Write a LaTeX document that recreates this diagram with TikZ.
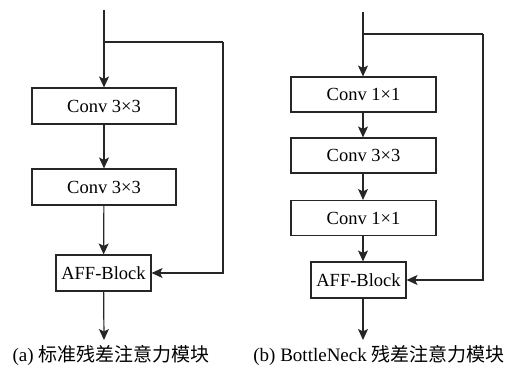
\documentclass[tikz,border=0pt]{standalone}
\usepackage{fontspec}
\setmainfont{Liberation Serif}
\newfontfamily\cjk{Noto Sans CJK SC}
\usetikzlibrary{arrows.meta}
\begin{document}
\begin{tikzpicture}[x=1pt,y=-1pt,
  blk/.style={draw=black!85, line width=1.1pt, minimum width=144pt, minimum height=36pt,
    inner sep=0pt, font=\fontsize{18.5}{20}\selectfont},
  aff/.style={blk, minimum width=95pt},
  flow/.style={draw=black!85, line width=1.2pt, -{Stealth[length=11pt,width=10pt,inset=2.5pt]}},
  wire/.style={draw=black!85, line width=1.2pt},
  captxt/.style={font=\fontsize{19}{21}\selectfont, inner sep=0pt}]
\useasboundingbox (0,0) rectangle (508,369);

% ---- (a) standard residual attention block ----
\coordinate (ain) at (104,10);
\coordinate (asplit) at (104,42);
\coordinate (askip) at (223,42);
\coordinate (aout) at (104,340);
\node[blk] (a1) at (104,106) {Conv 3×3};
\node[blk] (a2) at (104,187) {Conv 3×3};
\node[aff] (a3) at (103.5,273) {AFF-Block};
\draw[flow] (ain) -- (a1.north);
\draw[wire] (asplit) -- (askip);
\draw[flow] (askip) |- (a3.east);
\draw[flow] (a1) -- (a2);
\draw[flow] (a2) -- (a3);
\draw[flow] (a3) -- (aout);
\node[captxt] (acap) at (111,355) {(a) {\cjk 标准残差注意力模块}};

% ---- (b) BottleNeck residual attention block ----
\coordinate (bin) at (363,12);
\coordinate (bsplit) at (363,34);
\coordinate (bskip) at (483,34);
\coordinate (bout) at (363,340);
\node[blk, minimum width=145pt, minimum height=35pt] (b1) at (363.5,94.5) {Conv 1×1};
\node[blk, minimum width=145pt, minimum height=35pt] (b2) at (363.5,155.5) {Conv 3×3};
\node[blk, minimum width=145pt, minimum height=35pt] (b3) at (363.5,218) {Conv 1×1};
\node[aff] (b4) at (358.5,280) {AFF-Block};
\draw[flow] (bin) -- (bin |- b1.north);
\draw[wire] (bsplit) -- (bskip);
\draw[flow] (bskip) |- (b4.east);
\draw[flow] (bin |- b1.south) -- (bin |- b2.north);
\draw[flow] (bin |- b2.south) -- (bin |- b3.north);
\draw[flow] (bin |- b3.south) -- (bin |- b4.north);
\draw[flow] (bin |- b4.south) -- (bout);
\node[captxt] (bcap) at (379,355) {(b) BottleNeck {\cjk 残差注意力模块}};
\end{tikzpicture}
\end{document}
